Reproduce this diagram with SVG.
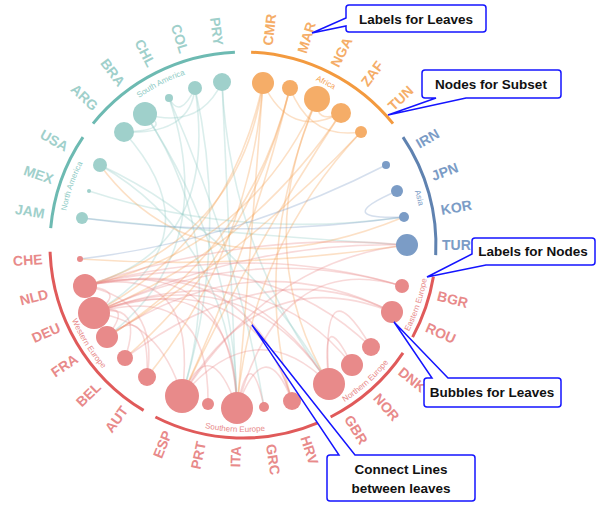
<svg xmlns="http://www.w3.org/2000/svg" width="600" height="512" viewBox="0 0 600 512">
<style>
text{font-family:"Liberation Sans",Arial,sans-serif}
.lab{font-size:14px;font-weight:bold;dominant-baseline:central}
.grp{font-size:8px}
.arc{fill:none;stroke-width:3}
.c{fill:none;stroke-width:1.6;stroke-opacity:.32}
.t{stroke:#8ecbc5}.o{stroke:#f5a04f}.b{stroke:#7b9cc6}.r{stroke:#e88a8a}
.call{fill:#fff;stroke:#1414ff;stroke-width:1.5}
.ct{font-size:13.5px;font-weight:bold;fill:#111;text-anchor:middle}
</style>
<defs>
<path id="gSA" d="M109.2,124.6 A180,180 0 0 1 224.2,66"/>
<path id="gAF" d="M261.8,66 A180,180 0 0 1 376.8,124.6"/>
<path id="gAS" d="M398.9,155 A180,180 0 0 1 423,245"/>
<path id="gNA" d="M63.1,238.7 A180,180 0 0 1 97.4,139.2"/>
<path id="gEE" d="M405,338.5 A187,187 0 0 0 428.2,271"/>
<path id="gNE" d="M330.8,410.1 A187,187 0 0 0 398,349.6"/>
<path id="gSE" d="M164,414.5 A187,187 0 0 0 307,420.7"/>
<path id="gWE" d="M58.8,277.5 A187,187 0 0 0 135.7,398.2"/>
</defs>
<rect width="600" height="512" fill="#fff"/>
<g id="connectors">
<path class="c t" d="M145,114 Q175,130 124,132"/>
<path class="c t" d="M124,132 Q190,135 195,88"/>
<path class="c t" d="M145,114 Q200,130 222,82"/>
<path class="c t" d="M169,98 Q180,120 195,88"/>
<path class="c t" d="M145,114 Q235,250 237,408"/>
<path class="c t" d="M145,114 Q230,240 182,396"/>
<path class="c t" d="M124,132 Q220,240 94,313"/>
<path class="c t" d="M222,82 Q230,260 237,408"/>
<path class="c t" d="M195,88 Q220,250 85,286"/>
<path class="c t" d="M222,82 Q230,250 329,384"/>
<path class="c t" d="M169,98 Q220,250 107,337"/>
<path class="c t" d="M100,165 Q230,240 237,408"/>
<path class="c t" d="M89,191 Q240,240 404,217"/>
<path class="c t" d="M82,218 Q240,235 407,245"/>
<path class="c t" d="M100,165 Q240,230 329,384"/>
<path class="c t" d="M195,88 Q230,240 182,396"/>
<path class="c t" d="M169,98 Q240,260 264,407"/>
<path class="c o" d="M263,83 Q230,240 94,313"/>
<path class="c o" d="M263,83 Q250,260 237,408"/>
<path class="c o" d="M290,88 Q250,250 182,396"/>
<path class="c o" d="M290,88 Q250,250 107,337"/>
<path class="c o" d="M317,99 Q250,250 85,286"/>
<path class="c o" d="M317,99 Q250,250 329,384"/>
<path class="c o" d="M341,113 Q250,250 94,313"/>
<path class="c o" d="M341,113 Q250,250 182,396"/>
<path class="c o" d="M361,132 Q250,250 107,337"/>
<path class="c o" d="M361,132 Q250,250 237,408"/>
<path class="c o" d="M263,83 Q290,140 341,113"/>
<path class="c o" d="M290,88 Q310,140 361,132"/>
<path class="c o" d="M317,99 Q315,125 341,113"/>
<path class="c o" d="M100,165 Q200,300 404,217"/>
<path class="c o" d="M263,83 Q240,240 85,286"/>
<path class="c o" d="M290,88 Q250,250 125,358"/>
<path class="c o" d="M80,259 Q240,270 407,245"/>
<path class="c o" d="M263,83 Q250,250 147,377"/>
<path class="c o" d="M317,99 Q250,260 292,401"/>
<path class="c b" d="M397,191 Q330,220 404,217"/>
<path class="c b" d="M386,165 Q240,240 80,259"/>
<path class="c b" d="M404,217 Q240,240 82,218"/>
<path class="c r" d="M407,245 Q250,230 85,286"/>
<path class="c r" d="M407,245 Q250,240 94,313"/>
<path class="c r" d="M402,286 Q250,240 94,313"/>
<path class="c r" d="M402,286 Q250,240 85,286"/>
<path class="c r" d="M392,312 Q250,240 107,337"/>
<path class="c r" d="M392,312 Q260,260 182,396"/>
<path class="c r" d="M371,347 Q320,260 329,384"/>
<path class="c r" d="M352,365 Q320,300 329,384"/>
<path class="c r" d="M329,384 Q245,255 94,313"/>
<path class="c r" d="M329,384 Q245,250 85,286"/>
<path class="c r" d="M182,396 Q160,320 94,313"/>
<path class="c r" d="M237,408 Q210,330 182,396"/>
<path class="c r" d="M237,408 Q265,330 292,401"/>
<path class="c r" d="M237,408 Q250,340 264,407"/>
<path class="c r" d="M237,408 Q235,260 94,313"/>
<path class="c r" d="M237,408 Q230,250 85,286"/>
<path class="c r" d="M182,396 Q200,260 85,286"/>
<path class="c r" d="M85,286 Q130,290 94,313"/>
<path class="c r" d="M94,313 Q135,300 107,337"/>
<path class="c r" d="M94,313 Q145,300 125,358"/>
<path class="c r" d="M85,286 Q160,300 147,377"/>
<path class="c r" d="M107,337 Q150,300 147,377"/>
<path class="c r" d="M292,401 Q250,260 94,313"/>
<path class="c r" d="M292,401 Q250,250 85,286"/>
<path class="c r" d="M208,404 Q210,280 94,313"/>
<path class="c r" d="M371,347 Q260,240 85,286"/>
<path class="c r" d="M352,365 Q260,250 94,313"/>
<path class="c r" d="M182,396 Q255,310 329,384"/>
<path class="c r" d="M402,286 Q280,250 237,408"/>
<path class="c r" d="M392,312 Q270,250 125,358"/>
<path class="c r" d="M407,245 Q270,260 182,396"/>
</g>
<g id="arcs">
<path class="arc" stroke="#6dbab2" d="M93,123.6 A193,193 0 0 1 234.9,52.2"/>
<path class="arc" stroke="#f39a3f" d="M251.1,52.2 A193,193 0 0 1 393,123.6"/>
<path class="arc" stroke="#5f82b0" d="M403,137.1 A193,193 0 0 1 435.7,255.1"/>
<path class="arc" stroke="#e05a5a" d="M433.4,276.8 A193,193 0 0 1 412.6,337.1"/>
<path class="arc" stroke="#e05a5a" d="M403,352.9 A193,193 0 0 1 330.6,417"/>
<path class="arc" stroke="#e05a5a" d="M318.4,422.7 A193,193 0 0 1 155.4,417"/>
<path class="arc" stroke="#e05a5a" d="M143.6,410.4 A193,193 0 0 1 50.1,251.7"/>
<path class="arc" stroke="#6dbab2" d="M50.7,228.2 A193,193 0 0 1 83,137.1"/>
<text class="grp" fill="#8ecbc5" text-anchor="middle"><textPath href="#gSA" startOffset="50%">South America</textPath></text>
<text class="grp" fill="#f5a04f" text-anchor="middle"><textPath href="#gAF" startOffset="50%">Africa</textPath></text>
<text class="grp" fill="#7b9cc6" text-anchor="middle"><textPath href="#gAS" startOffset="50%">Asia</textPath></text>
<text class="grp" fill="#8ecbc5" text-anchor="middle"><textPath href="#gNA" startOffset="50%">North America</textPath></text>
<text class="grp" fill="#e88a8a" text-anchor="middle"><textPath href="#gEE" startOffset="50%">Eastern Europe</textPath></text>
<text class="grp" fill="#e88a8a" text-anchor="middle"><textPath href="#gNE" startOffset="50%">Northern Europe</textPath></text>
<text class="grp" fill="#e88a8a" text-anchor="middle"><textPath href="#gSE" startOffset="50%">Southern Europe</textPath></text>
<text class="grp" fill="#e88a8a" text-anchor="middle"><textPath href="#gWE" startOffset="50%">Western Europe</textPath></text>
</g>
<g id="sa" fill="#9fd0cb">
<circle cx="124" cy="132" r="10"/><circle cx="145" cy="114" r="12"/><circle cx="169" cy="98" r="4"/><circle cx="195" cy="88" r="7"/><circle cx="222" cy="82" r="9"/>
<g class="lab" text-anchor="end">
<text transform="translate(243 245) rotate(-137) translate(201 0) rotate(180)">ARG</text>
<text transform="translate(243 245) rotate(-127) translate(201 0) rotate(180)">BRA</text>
<text transform="translate(243 245) rotate(-117) translate(201 0) rotate(180)">CHL</text>
<text transform="translate(243 245) rotate(-107) translate(201 0) rotate(180)">COL</text>
<text transform="translate(243 245) rotate(-97) translate(201 0) rotate(180)">PRY</text>
</g></g>
<g id="na" fill="#9fd0cb">
<circle cx="100" cy="165" r="7"/><circle cx="89" cy="191" r="2"/><circle cx="82" cy="218" r="6"/>
<g class="lab" text-anchor="end">
<text transform="translate(243 245) rotate(-151) translate(201 0) rotate(180)">USA</text>
<text transform="translate(243 245) rotate(-161) translate(201 0) rotate(180)">MEX</text>
<text transform="translate(243 245) rotate(-171) translate(201 0) rotate(180)">JAM</text>
</g></g>
<g id="africa" fill="#f5ad68">
<circle cx="263" cy="83" r="11"/><circle cx="290" cy="88" r="8"/><circle cx="317" cy="99" r="13"/><circle cx="341" cy="113" r="10"/><circle cx="361" cy="132" r="6"/>
<g class="lab" text-anchor="start">
<text transform="translate(243 245) rotate(-83) translate(201 0)">CMR</text>
<text transform="translate(243 245) rotate(-73) translate(201 0)">MAR</text>
<text transform="translate(243 245) rotate(-63) translate(201 0)">NGA</text>
<text transform="translate(243 245) rotate(-53) translate(201 0)">ZAF</text>
<text transform="translate(243 245) rotate(-43) translate(201 0)">TUN</text>
</g></g>
<g id="asia" fill="#7b9cc6">
<circle cx="386" cy="165" r="4"/><circle cx="397" cy="191" r="6"/><circle cx="404" cy="217" r="5"/><circle cx="407" cy="245" r="11"/>
<g class="lab" text-anchor="start">
<text transform="translate(243 245) rotate(-30) translate(201 0)">IRN</text>
<text transform="translate(243 245) rotate(-20) translate(201 0)">JPN</text>
<text transform="translate(243 245) rotate(-10) translate(201 0)">KOR</text>
<text transform="translate(243 245) rotate(0) translate(199 0)">TUR</text>
</g></g>
<g id="europe" fill="#e88a8a">
<circle cx="402" cy="286" r="7"/><circle cx="392" cy="312" r="11"/>
<circle cx="371" cy="347" r="9"/><circle cx="352" cy="365" r="11"/><circle cx="329" cy="384" r="16"/>
<circle cx="182" cy="396" r="17"/><circle cx="208" cy="404" r="6"/><circle cx="237" cy="408" r="16"/><circle cx="264" cy="407" r="5"/><circle cx="292" cy="401" r="9"/>
<circle cx="80" cy="259" r="3"/><circle cx="85" cy="286" r="12"/><circle cx="94" cy="313" r="16"/><circle cx="107" cy="337" r="11"/><circle cx="125" cy="358" r="8"/><circle cx="147" cy="377" r="9"/>
<g class="lab" text-anchor="start">
<text transform="translate(243 245) rotate(14.5) translate(201 0)">BGR</text>
<text transform="translate(243 245) rotate(24) translate(201 0)">ROU</text>
<text transform="translate(243 245) rotate(38.5) translate(201 0)">DNK</text>
<text transform="translate(243 245) rotate(48.5) translate(201 0)">NOR</text>
<text transform="translate(243 245) rotate(58.5) translate(201 0)">GBR</text>
<text transform="translate(243 245) rotate(72) translate(201 0)">HRV</text>
<text transform="translate(243 245) rotate(82) translate(201 0)">GRC</text>
</g>
<g class="lab" text-anchor="end">
<text transform="translate(243 245) rotate(92) translate(201 0) rotate(180)">ITA</text>
<text transform="translate(243 245) rotate(102) translate(201 0) rotate(180)">PRT</text>
<text transform="translate(243 245) rotate(112) translate(201 0) rotate(180)">ESP</text>
<text transform="translate(243 245) rotate(126) translate(201 0) rotate(180)">AUT</text>
<text transform="translate(243 245) rotate(136) translate(201 0) rotate(180)">BEL</text>
<text transform="translate(243 245) rotate(146) translate(201 0) rotate(180)">FRA</text>
<text transform="translate(243 245) rotate(156) translate(201 0) rotate(180)">DEU</text>
<text transform="translate(243 245) rotate(166) translate(201 0) rotate(180)">NLD</text>
<text transform="translate(243 245) rotate(176) translate(201 0) rotate(180)">CHE</text>
</g></g>
<g id="callout-leaves">
<path class="call" d="M349,5 H483 Q486,5 486,8 V29 Q486,32 483,32 H349 Q346,32 346,29 V26 L312,33 L346,18 V8 Q346,5 349,5 Z"/>
<text class="ct" x="416" y="24">Labels for Leaves</text></g>
<g id="callout-subset">
<path class="call" d="M425,70 H558 Q561,70 561,73 V95 Q561,98 558,98 H466 L388,115 L436,98 H425 Q422,98 422,95 V73 Q422,70 425,70 Z"/>
<text class="ct" x="491" y="89">Nodes for Subset</text></g>
<g id="callout-nodes">
<path class="call" d="M475,238 H592 Q595,238 595,241 V262 Q595,265 592,265 H486 L427,277 L472,254 V241 Q472,238 475,238 Z"/>
<text class="ct" x="533" y="256">Labels for Nodes</text></g>
<g id="callout-bubbles">
<path class="call" d="M427,378 H432 L394,322 L448,378 H558 Q561,378 561,381 V404 Q561,407 558,407 H427 Q424,407 424,404 V381 Q424,378 427,378 Z"/>
<text class="ct" x="492" y="397">Bubbles for Leaves</text></g>
<g id="callout-lines">
<path class="call" d="M330,455 H339 L252,325 L355,455 H472 Q475,455 475,458 V498 Q475,501 472,501 H330 Q327,501 327,498 V458 Q327,455 330,455 Z"/>
<text class="ct" x="401" y="474">Connect Lines</text>
<text class="ct" x="401" y="493">between leaves</text></g>
</svg>
